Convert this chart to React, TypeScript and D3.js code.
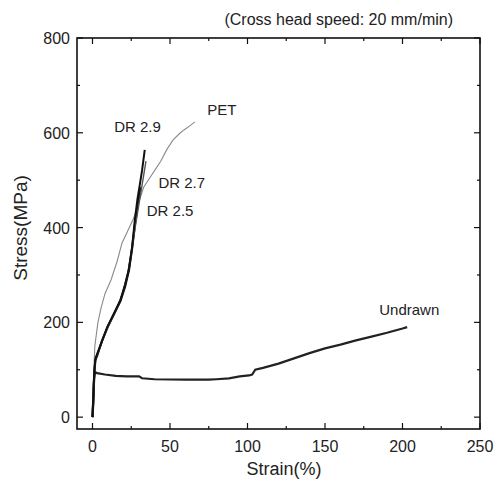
import React from "react";
import * as d3 from "d3";

const W = 495;
const H = 481;

const xTicksMajor = [0, 50, 100, 150, 200, 250];
const xTicksMinor = [25, 75, 125, 175, 225];
const yTicksMajor = [0, 200, 400, 600, 800];
const yTicksMinor = [100, 300, 500, 700];

// [strain %, stress MPa]
const petCurve: [number, number][] = [
  [0, 0], [0.5, 60], [1, 110], [1.5, 150], [3.5, 200], [5.5, 230], [8, 260],
  [12, 290], [16, 330], [19, 367], [23, 395], [26.6, 420], [30, 455], [33, 485],
  [37, 505], [41, 525], [44, 540], [48, 565], [52, 585], [56, 598], [59, 606],
  [63, 615], [66, 623],
];
const dr25Curve: [number, number][] = [
  [0, 0], [0.5, 30], [1, 80], [1.8, 120], [3, 130], [6, 160], [10, 192], [14, 218],
  [18, 245], [21, 275], [23.5, 310], [25.5, 355], [27.5, 410], [29.5, 455], [31, 485],
];
const dr27Curve: [number, number][] = [
  [0, 0], [0.6, 40], [1.2, 95], [2, 125], [4, 140], [8, 175], [12, 205], [16, 232],
  [19.5, 262], [22.5, 300], [25, 345], [27.5, 400], [30, 450], [32, 490], [34.5, 540],
];
const dr29Curve: [number, number][] = [
  [0, 0], [0.5, 40], [1.2, 100], [2, 125], [4, 142], [9.5, 190], [14, 220], [18, 247],
  [21, 280], [23.4, 311], [25.6, 360], [27.3, 416], [29, 460], [30.5, 490], [32, 521],
  [33.7, 564],
];
const undrawnCurve: [number, number][] = [
  [0, 0], [0.5, 40], [1, 80], [1.5, 95], [3, 93], [8, 90], [15, 87], [22, 86], [30, 86],
  [32, 82], [40, 80], [60, 79], [75, 79], [80, 80], [88, 82], [95, 86], [101, 88],
  [103, 90], [105, 100], [110, 104], [120, 113], [130, 124], [140, 135], [150, 145],
  [160, 153], [170, 162], [180, 170], [190, 178], [200, 187], [203, 190],
];

const curveLabels = [
  { text: "PET", x: 74, y: 637 },
  { text: "DR 2.9", x: 14, y: 602 },
  { text: "DR 2.7", x: 42.5, y: 484 },
  { text: "DR 2.5", x: 35, y: 424 },
  { text: "Undrawn", x: 185, y: 216 },
];

const FONT = "'Liberation Sans', Arial, Helvetica, sans-serif";

export default function App() {
  const left = 77, right = 480, top = 38, bottom = 429;
  const x = d3.scaleLinear().domain([-10, 250]).range([left, right]);
  const y = d3.scaleLinear().domain([-25, 800]).range([bottom, top]);
  const line = d3
    .line<[number, number]>()
    .x((d) => x(d[0]))
    .y((d) => y(d[1]))
    .curve(d3.curveLinear);

  return (
    <svg
      width={W}
      height={H}
      style={{ position: "absolute", left: 0, top: 0, background: "#fff" }}
      fontFamily={FONT}
    >
      <rect x={0} y={0} width={W} height={H} fill="#fff" />
      {/* frame */}
      <rect
        x={left}
        y={top}
        width={right - left}
        height={bottom - top}
        fill="none"
        stroke="#111"
        strokeWidth={1.6}
      />
      {/* x ticks */}
      {xTicksMajor.map((t) => (
        <g key={"xM" + t}>
          <line x1={x(t)} x2={x(t)} y1={bottom} y2={bottom - 6} stroke="#111" strokeWidth={1.2} />
          <line x1={x(t)} x2={x(t)} y1={top} y2={top + 6} stroke="#111" strokeWidth={1.2} />
          <text x={x(t)} y={452} textAnchor="middle" fontSize={16} fill="#222">
            {t}
          </text>
        </g>
      ))}
      {xTicksMinor.map((t) => (
        <g key={"xm" + t}>
          <line x1={x(t)} x2={x(t)} y1={bottom} y2={bottom - 3} stroke="#111" strokeWidth={1.2} />
          <line x1={x(t)} x2={x(t)} y1={top} y2={top + 3} stroke="#111" strokeWidth={1.2} />
        </g>
      ))}
      {/* y ticks */}
      {yTicksMajor.map((t) => (
        <g key={"yM" + t}>
          <line x1={left} x2={left + 6} y1={y(t)} y2={y(t)} stroke="#111" strokeWidth={1.2} />
          <line x1={right} x2={right - 6} y1={y(t)} y2={y(t)} stroke="#111" strokeWidth={1.2} />
          <text x={70} y={y(t) + 6} textAnchor="end" fontSize={16} fill="#222">
            {t}
          </text>
        </g>
      ))}
      {yTicksMinor.map((t) => (
        <g key={"ym" + t}>
          <line x1={left} x2={left + 3} y1={y(t)} y2={y(t)} stroke="#111" strokeWidth={1.2} />
          <line x1={right} x2={right - 3} y1={y(t)} y2={y(t)} stroke="#111" strokeWidth={1.2} />
        </g>
      ))}
      {/* axis titles */}
      <text x={284} y={475} textAnchor="middle" fontSize={18} fill="#222">
        Strain(%)
      </text>
      <text
        transform={`translate(27, 228) rotate(-90)`}
        textAnchor="middle"
        fontSize={19}
        fill="#222"
      >
        Stress(MPa)
      </text>
      <text x={453} y={25} textAnchor="end" fontSize={16} fill="#222">
        (Cross head speed: 20 mm/min)
      </text>
      {/* curves */}
      <path d={line(undrawnCurve) || ""} fill="none" stroke="#222" strokeWidth={2.2} />
      <path d={line(petCurve) || ""} fill="none" stroke="#8a8a8a" strokeWidth={1.1} />
      <path d={line(dr25Curve) || ""} fill="none" stroke="#111" strokeWidth={2.2} />
      <path d={line(dr27Curve) || ""} fill="none" stroke="#555" strokeWidth={1.4} />
      <path d={line(dr29Curve) || ""} fill="none" stroke="#111" strokeWidth={2} />
      {/* labels */}
      {curveLabels.map((l) => (
        <text key={l.text} x={x(l.x)} y={y(l.y)} fontSize={15} fill="#222">
          {l.text}
        </text>
      ))}
    </svg>
  );
}
